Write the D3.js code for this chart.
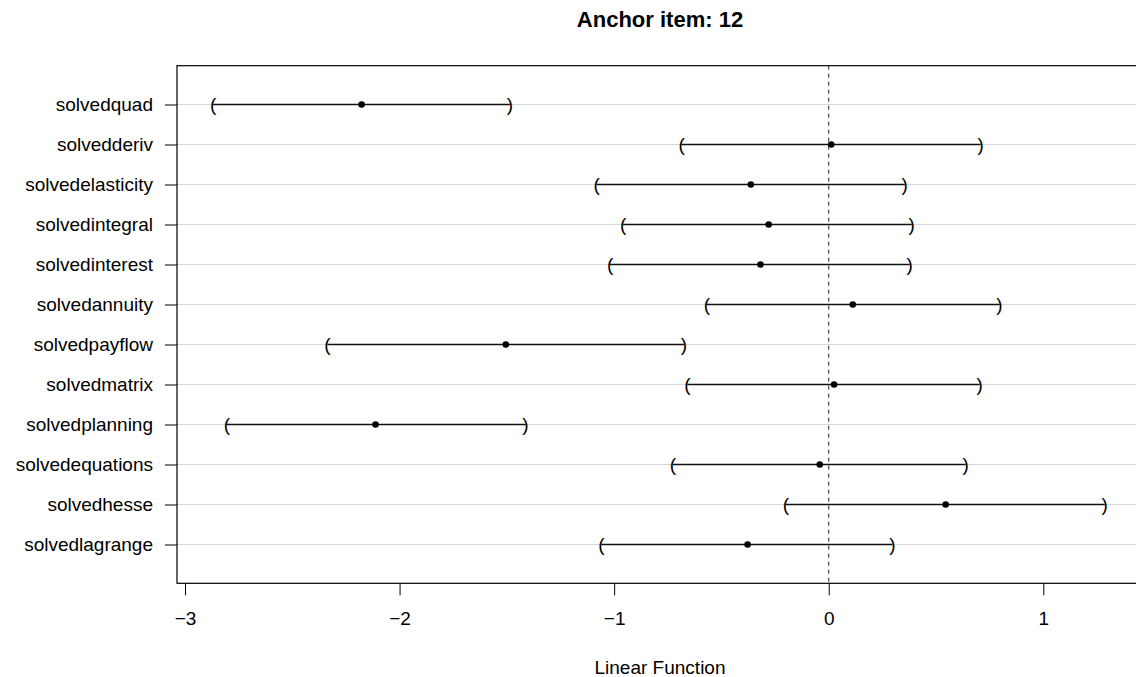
<!DOCTYPE html>
<html>
<head>
<meta charset="utf-8">
<title>Anchor item: 12</title>
<script src="https://cdn.jsdelivr.net/npm/d3@7"></script>
<style>
  body { margin: 0; background: #fff; }
  text { font-family: "Liberation Sans", Arial, Helvetica, sans-serif; fill: #000; }
</style>
</head>
<body>
<script>
// items, top to bottom
var items = ["solvedquad", "solvedderiv", "solvedelasticity", "solvedintegral",
             "solvedinterest", "solvedannuity", "solvedpayflow", "solvedmatrix",
             "solvedplanning", "solvedequations", "solvedhesse", "solvedlagrange"];
var estimate = [-2.177, 0.012, -0.363, -0.280, -0.318, 0.112, -1.505, 0.025,
                -2.112, -0.042, 0.545, -0.378];
var lower    = [-2.869, -0.685, -1.082, -0.958, -1.019, -0.568, -2.336, -0.659,
                -2.805, -0.726, -0.200, -1.059];
var upper    = [-1.486, 0.708, 0.354, 0.387, 0.377, 0.796, -0.675, 0.703,
                -1.413, 0.638, 1.286, 0.297];
var xTicks = [-3, -2, -1, 0, 1];

var W = 1136, H = 677;
var pLeft = 177, pTop = 65.7, pBottom = 583.3, pRight = 1143;

var svg = d3.select("body").append("svg")
    .attr("width", W).attr("height", H);

var x = d3.scaleLinear().domain([-3, 1]).range([185, 1043.3]);
var y = d3.scalePoint().domain(items).range([pTop, pBottom]).padding(0.97);

var rows = items.map(function(d, i) {
  return { name: d, est: estimate[i], lo: lower[i], hi: upper[i] };
});

// grid lines
svg.append("g").selectAll("line").data(items).enter().append("line")
    .attr("x1", pLeft).attr("x2", pRight)
    .attr("y1", function(d) { return y(d); })
    .attr("y2", function(d) { return y(d); })
    .attr("stroke", "#d6d6d6").attr("stroke-width", 1);

// zero reference line
svg.append("line")
    .attr("x1", x(0)).attr("x2", x(0))
    .attr("y1", pTop).attr("y2", pBottom)
    .attr("stroke", "#222").attr("stroke-width", 1)
    .attr("stroke-dasharray", "4,4");

// intervals
var g = svg.append("g");
g.selectAll("line.ci").data(rows).enter().append("line")
    .attr("class", "ci")
    .attr("x1", function(d) { return x(d.lo); })
    .attr("x2", function(d) { return x(d.hi); })
    .attr("y1", function(d) { return y(d.name); })
    .attr("y2", function(d) { return y(d.name); })
    .attr("stroke", "#111").attr("stroke-width", 1.3);

g.selectAll("text.lo").data(rows).enter().append("text")
    .attr("class", "lo")
    .attr("x", function(d) { return x(d.lo); })
    .attr("y", function(d) { return y(d.name); })
    .attr("text-anchor", "middle").attr("dominant-baseline", "central")
    .style("font-size", "19px").text("(");

g.selectAll("text.hi").data(rows).enter().append("text")
    .attr("class", "hi")
    .attr("x", function(d) { return x(d.hi); })
    .attr("y", function(d) { return y(d.name); })
    .attr("text-anchor", "middle").attr("dominant-baseline", "central")
    .style("font-size", "19px").text(")");

g.selectAll("circle").data(rows).enter().append("circle")
    .attr("cx", function(d) { return x(d.est); })
    .attr("cy", function(d) { return y(d.name); })
    .attr("r", 3.3).attr("fill", "#000");

// box
svg.append("rect")
    .attr("x", pLeft).attr("y", pTop)
    .attr("width", pRight - pLeft).attr("height", pBottom - pTop)
    .attr("fill", "none").attr("stroke", "#000").attr("stroke-width", 1.2);

// x axis
var xAxis = svg.append("g")
    .attr("transform", "translate(0," + pBottom + ")")
    .call(d3.axisBottom(x).tickValues(xTicks).tickSize(12).tickPadding(16)
      .tickFormat(function(d) { return d < 0 ? "\u2212" + Math.abs(d) : d; }));
xAxis.select(".domain").remove();
xAxis.selectAll("line").attr("stroke", "#000").attr("stroke-width", 1);
xAxis.selectAll("text").style("font-size", "19px")
    .style("font-family", "'Liberation Sans', Arial, sans-serif");

// y axis
var yAxis = svg.append("g")
    .attr("transform", "translate(" + pLeft + ",0)")
    .call(d3.axisLeft(y).tickSize(12).tickPadding(12));
yAxis.select(".domain").remove();
yAxis.selectAll("line").attr("stroke", "#000").attr("stroke-width", 1);
yAxis.selectAll("text").style("font-size", "19px")
    .style("font-family", "'Liberation Sans', Arial, sans-serif");

// title and axis label
svg.append("text")
    .attr("x", (pLeft + pRight) / 2).attr("y", 27)
    .attr("text-anchor", "middle")
    .style("font-size", "22px").style("font-weight", "bold")
    .text("Anchor item: 12");

svg.append("text")
    .attr("x", (pLeft + pRight) / 2).attr("y", 674)
    .attr("text-anchor", "middle")
    .style("font-size", "19px")
    .text("Linear Function");
</script>
</body>
</html>
